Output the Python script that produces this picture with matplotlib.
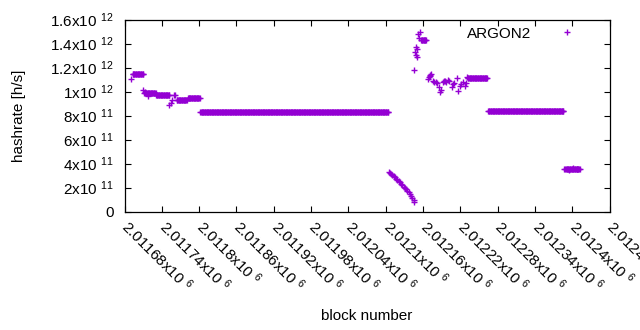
import matplotlib
matplotlib.use("Agg")
import matplotlib.pyplot as plt
import matplotlib.transforms as mtrans

plt.rcParams['font.family'] = ['Liberation Sans', 'DejaVu Sans']
plt.rcParams['mathtext.fontset'] = 'custom'
plt.rcParams['mathtext.rm'] = 'Liberation Sans'
plt.rcParams['mathtext.it'] = 'Liberation Sans'
plt.rcParams['font.size'] = 11

# flat runs where the hashrate stays the same: first block, last block, value
run_start = [2011693, 2011712, 2011731, 2011764, 2011782, 2011802, 2012157, 2012232, 2012265, 2012389]
run_end = [2011710, 2011730, 2011752, 2011780, 2011801, 2012104, 2012165, 2012263, 2012386, 2012412]
run_value = [1.143e12, 0.985e12, 0.968e12, 0.929e12, 0.943e12, 0.826e12, 1.43e12, 1.111e12, 0.834e12, 0.355e12]

# single points
pt_block = [2011690, 2011710, 2011713, 2011718, 2011752, 2011754, 2011757, 2011760, 2011762,
            2012105, 2012107, 2012109, 2012111, 2012113, 2012115, 2012117, 2012119, 2012121,
            2012123, 2012125, 2012127, 2012129, 2012131, 2012133, 2012135, 2012137, 2012139,
            2012141, 2012143, 2012145, 2012146,
            2012146, 2012147, 2012148, 2012149, 2012150, 2012151, 2012152, 2012154, 2012156,
            2012168, 2012169, 2012171, 2012172, 2012173, 2012176, 2012178, 2012181, 2012183,
            2012185, 2012187, 2012189, 2012192, 2012194, 2012195, 2012197, 2012200, 2012202,
            2012206, 2012208, 2012210, 2012214, 2012216, 2012219, 2012221, 2012224, 2012227,
            2012229, 2012231,
            2012387, 2012395, 2012402, 2012408]
pt_value = [1.107e12, 1.01e12, 1.0e12, 0.96e12, 0.89e12, 0.907e12, 0.927e12, 0.968e12, 0.973e12,
            0.330e12, 0.322e12, 0.312e12, 0.305e12, 0.292e12, 0.284e12, 0.272e12, 0.262e12, 0.255e12,
            0.243e12, 0.232e12, 0.220e12, 0.208e12, 0.197e12, 0.185e12, 0.172e12, 0.160e12, 0.146e12,
            0.128e12, 0.110e12, 0.092e12, 0.082e12,
            1.18e12, 1.327e12, 1.307e12, 1.373e12, 1.354e12, 1.29e12, 1.48e12, 1.45e12, 1.50e12,
            1.104e12, 1.118e12, 1.13e12, 1.14e12, 1.15e12, 1.085e12, 1.08e12, 1.077e12, 1.07e12,
            1.04e12, 0.993e12, 1.013e12, 1.077e12, 1.085e12, 1.09e12, 1.08e12, 1.096e12, 1.085e12,
            1.035e12, 1.063e12, 1.07e12, 1.113e12, 1.007e12, 1.048e12, 1.06e12, 1.077e12, 1.048e12,
            1.07e12, 1.118e12,
            0.358e12, 0.35e12, 0.36e12, 0.352e12]

x_ticks = [2011680 + 60 * i for i in range(14)]
x_labels = ['2.01168', '2.01174', '2.0118', '2.01186', '2.01192', '2.01198', '2.01204',
            '2.0121', '2.01216', '2.01222', '2.01228', '2.01234', '2.0124', '2.01246']
y_ticks = [0, 2e11, 4e11, 6e11, 8e11, 1e12, 1.2e12, 1.4e12, 1.6e12]
y_labels = ['0', '2x10', '4x10', '6x10', '8x10', '1x10', '1.2x10', '1.4x10', '1.6x10']
y_exp = ['', '11', '11', '11', '11', '12', '12', '12', '12']

blocks = list(pt_block)
rates = list(pt_value)
for s, e, v in zip(run_start, run_end, run_value):
    for b in range(s, e + 1):
        blocks.append(b)
        rates.append(v)

fig = plt.figure(figsize=(6.4, 3.3), dpi=100)
ax = fig.add_axes([124.5 / 640, 1 - 211.5 / 330, 485 / 640, 192 / 330])

ax.plot(blocks, rates, '+', color='#9400D3', markersize=5, markeredgewidth=1, label='ARGON2')

ax.set_xlim(2011680, 2012460)
ax.set_ylim(0, 1.6e12)
ax.set_xticks(x_ticks)
ax.set_xticklabels([l + r'x10 $^{6}$' for l in x_labels], rotation=-45, ha='left', va='top',
                   rotation_mode='anchor')
ax.set_yticks(y_ticks)
ax.set_yticklabels([l if e == '' else l + ' $^{' + e + '}$' for l, e in zip(y_labels, y_exp)])
ax.tick_params(direction='in', top=True, right=True, length=4, width=0.8, pad=8)
ax.tick_params(axis='x', pad=9)
for sp in ax.spines.values():
    sp.set_linewidth(0.9)

# nudge the slanted labels so they start right at their tick
shift = mtrans.ScaledTranslation(0.07, 0.07, fig.dpi_scale_trans)
for lab in ax.get_xticklabels():
    lab.set_transform(lab.get_transform() + shift)

ax.set_xlabel('block number', labelpad=10)
ax.set_ylabel('hashrate [h/s]', labelpad=17)

ax.legend(loc='upper right', bbox_to_anchor=(0.9536, 0.963), markerfirst=False, frameon=False,
          handlelength=2.6, handletextpad=1.05, borderpad=0, borderaxespad=0, numpoints=1)

fig.savefig('out.png', dpi=100)
